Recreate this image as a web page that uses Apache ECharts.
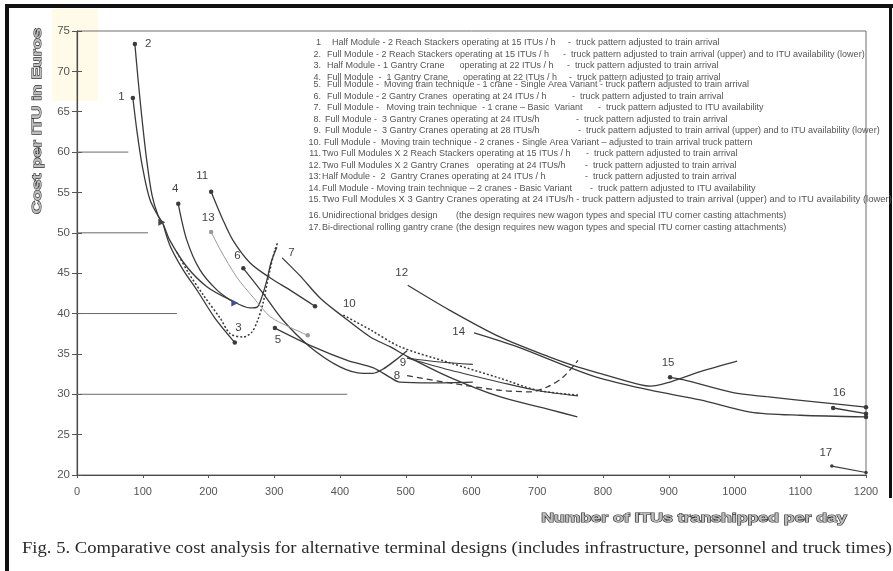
<!DOCTYPE html>
<html>
<head>
<meta charset="utf-8">
<title>Comparative cost analysis for alternative terminal designs</title>
<script src="https://cdn.jsdelivr.net/npm/echarts/dist/echarts.min.js"></script>
<style>
  html, body { margin: 0; padding: 0; background: #ffffff; }
  #chart { width: 893px; height: 571px; }
</style>
</head>
<body>
<div id="chart"></div>
<script>
// Cost per ITU (Euros) against ITUs transhipped per day, one polyline per terminal design
const design1 = [[85, 66.7], [91, 62.7], [99, 58.4], [111, 54.1], [129, 51.3]];
const design2Upper = [[88, 73.4], [93, 68.9], [99, 64.0], [106, 59.0], [114, 54.7], [123, 52.2], [131, 51.1], [141, 49.1], [167, 45.8], [198, 43.3], [233, 41.7], [263, 40.7], [274, 40.8], [281, 42.0], [289, 44.2], [295, 46.3], [304, 48.2]];
const design2Lower = [[131, 51.1], [141, 48.5], [160, 45.6], [184, 42.7], [210, 39.4], [240, 36.4]];
const design3 = [[152, 47.6], [169, 45.1], [192, 42.3], [218, 39.4], [233, 37.5], [253, 37.1], [266, 37.7], [275, 39.2], [283, 41.3], [291, 44.5], [301, 47.9], [306, 48.9]];
const design4 = [[154, 53.6], [167, 49.1], [187, 45.4], [213, 42.9], [240, 41.3]];
const design5 = [[301, 38.2], [359, 35.9], [411, 34.2], [450, 33.3], [476, 32.1], [491, 31.5], [541, 31.4], [602, 31.5]];
const design6 = [[253, 45.6], [283, 42.5], [313, 39.2], [354, 35.9], [400, 33.4], [435, 32.6], [450, 32.6], [465, 33.1], [484, 34.2], [502, 35.4]];
const design7 = [[312, 46.9], [339, 44.7], [370, 41.9], [405, 39.6], [446, 37.1], [476, 35.9], [502, 34.7], [567, 32.1], [643, 29.7], [719, 28.1], [761, 27.2]];
const design8 = [[502, 32.3], [567, 31.4], [643, 30.5], [689, 30.3], [715, 30.9], [739, 32.1], [762, 34.2]];
const design9Upper = [[502, 34.5], [552, 34.0], [602, 33.7]];
const design9Lower = [[502, 34.5], [567, 33.0], [643, 31.5], [704, 30.4], [762, 29.8]];
const design10 = [[405, 39.8], [446, 38.0], [491, 35.9], [567, 33.9], [643, 32.0], [700, 30.5], [762, 29.9]];
const design11 = [[204, 55.1], [222, 51.6], [237, 49.1], [263, 46.3], [294, 44.4], [324, 42.9], [362, 40.9]];
const design12 = [[503, 43.5], [567, 40.4], [643, 37.1], [719, 34.6], [761, 33.4], [795, 32.6], [846, 31.4], [872, 31.0], [897, 31.4], [948, 32.8], [1004, 34.1]];
const design13 = [[204, 50.1], [218, 47.9], [243, 44.5], [268, 42.0], [294, 39.6], [324, 38.3], [351, 37.3]];
const design14 = [[604, 37.6], [669, 35.9], [750, 33.3], [795, 32.0], [872, 30.5], [948, 29.3], [1024, 27.8], [1100, 27.4], [1200, 27.2]];
const design15 = [[902, 32.1], [922, 31.8], [998, 30.2], [1049, 29.7], [1130, 29.0], [1200, 28.4]];
const design16 = [[1150, 28.3], [1200, 27.6]];
const design17 = [[1148, 21.1], [1200, 20.3]];

// Short reference rules drawn from the cost axis: [level, end of rule in ITUs/day]
const guideStubs = [[60, 78], [50, 108], [40, 152], [30, 411]];

// Key to the curves
const keyNumbers = ['1', '2.', '3.', '4.', '5.', '6.', '7.', '8.', '9.', '10.', '11.', '12.', '13:', '14.', '15.', '16.', '17.'];
const keyDesigns = [
  'Half Module - 2 Reach Stackers operating at 15 ITUs / h',
  'Full Module - 2 Reach Stackers operating at 15 ITUs / h',
  'Half Module - 1 Gantry Crane      operating at 22 ITUs / h',
  'Full Module  -  1 Gantry Crane      operating at 22 ITUs / h',
  'Full Module -  Moving train technique - 1 crane - Single Area Variant - truck pattern adjusted to train arrival',
  'Full Module - 2 Gantry Cranes  operating at 24 ITUs / h',
  'Full Module -   Moving train technique  - 1 crane \u2013 Basic  Variant',
  'Full Module -  3 Gantry Cranes operating at 24 ITUs/h',
  'Full Module -  3 Gantry Cranes operating at 28 ITUs/h',
  'Full Module -  Moving train technique - 2 cranes - Single Area Variant \u2013 adjusted to train arrival truck pattern',
  'Two Full Modules X 2 Reach Stackers operating at 15 ITUs / h',
  'Two Full Modules X 2 Gantry Cranes   operating at 24 ITUs/h',
  'Half Module -  2  Gantry Cranes operating at 24 ITUs / h',
  'Full Module - Moving train technique \u2013 2 cranes - Basic Variant',
  'Two Full Modules X 3 Gantry Cranes operating at 24 ITUs/h - truck pattern adjusted to train arrival (upper) and to ITU availability (lower)',
  'Unidirectional bridges design',
  'Bi-directional rolling gantry crane'
];
const keyTruckPattern = [
  '-  truck pattern adjusted to train arrival',
  '-  truck pattern adjusted to train arrival (upper) and to ITU availability (lower)',
  '-  truck pattern adjusted to train arrival',
  '-  truck pattern adjusted to train arrival',
  '',
  '-  truck pattern adjusted to train arrival',
  '-  truck pattern adjusted to ITU availability',
  '-  truck pattern adjusted to train arrival',
  '-  truck pattern adjusted to train arrival (upper) and to ITU availability (lower)',
  '',
  '-  truck pattern adjusted to train arrival',
  '-  truck pattern adjusted to train arrival',
  '-  truck pattern adjusted to train arrival',
  '-  truck pattern adjusted to ITU availability',
  '',
  '(the design requires new wagon types and special ITU corner casting attachments)',
  '(the design requires new wagon types and special ITU corner casting attachments)'
];

// Layout of the key block (pixels)
const keyRowY = [43, 54.5, 66, 77.5, 85, 96.5, 108, 119.5, 131, 142.5, 154, 165.5, 177, 188.5, 200, 216, 228];
const keyDesignX = [332, 327, 327, 327, 327, 327, 327, 325, 325, 324, 322, 322, 322, 322, 322, 322, 322];
const keyTailX = [568, 563, 567, 569, 0, 572, 598, 576, 578, 0, 586, 585, 585, 590, 0, 456, 456];
const keyStretch = [1, 1, 1, 1, 1, 1, 1, 1, 1, 1, 1, 1, 1, 1, 1.055, 1, 1];

const INK = '#3b3b3b';

function curve(name, pts, o) {
  o = o || {};
  const data = pts.map(function (p, i) {
    const item = { value: p, symbolSize: 0.01 };
    const last = i === pts.length - 1;
    if (i === 0 && o.startDot) item.symbolSize = o.dotSize || 4.5;
    if (last && o.endDot) item.symbolSize = o.dotSize || 4.5;
    if (last && o.endTriangle) {
      item.symbol = 'triangle';
      item.symbolSize = 7;
      item.symbolRotate = -90;
      item.itemStyle = { color: o.endTriangle };
    }
    if (o.label && i === (o.labelAt || 0)) {
      item.label = {
        show: true,
        formatter: o.label,
        position: o.labelPos || 'top',
        offset: o.labelOffset || [0, 0],
        color: '#444',
        fontSize: 11.5,
        fontFamily: 'Liberation Sans, Arial, sans-serif'
      };
    }
    return item;
  });
  return {
    name: name,
    type: 'line',
    data: data,
    smooth: o.smooth === undefined ? 0.3 : o.smooth,
    symbol: 'circle',
    showSymbol: true,
    showAllSymbol: true,
    animation: false,
    silent: true,
    z: o.z || 3,
    itemStyle: { color: o.color || INK },
    lineStyle: {
      color: o.color || INK,
      width: o.width || 1.3,
      type: o.type || 'solid'
    },
    label: { show: false }
  };
}

const series = [
  curve('1', design1, { startDot: true, endTriangle: '#444', label: '1', labelPos: 'left', labelOffset: [-1, -1] }),
  curve('2 upper', design2Upper, { startDot: true, label: '2', labelPos: 'right', labelOffset: [3, 0] }),
  curve('2 lower', design2Lower, { endDot: true }),
  curve('3', design3, { type: [2, 2], width: 1.5, label: '3', labelAt: 5, labelPos: 'top', labelOffset: [-5, 2] }),
  curve('4', design4, { startDot: true, endTriangle: '#3f4f8f', label: '4', labelPos: 'top', labelOffset: [-3, -2] }),
  curve('5', design5, { startDot: true, label: '5', labelPos: 'bottom', labelOffset: [3, -1] }),
  curve('6', design6, { startDot: true, label: '6', labelPos: 'top', labelOffset: [-6, 1] }),
  curve('7', design7, { label: '7', labelPos: 'right', labelOffset: [1, -5] }),
  curve('8', design8, { type: [6, 4], label: '8', labelPos: 'left', labelOffset: [-2, 0] }),
  curve('9 upper', design9Upper, { width: 1.1, label: '9', labelPos: 'bottom', labelOffset: [-4, -6] }),
  curve('9 lower', design9Lower, { width: 1.1 }),
  curve('10', design10, { type: [2, 2], width: 1.5, label: '10', labelPos: 'top', labelOffset: [6, 0] }),
  curve('11', design11, { startDot: true, endDot: true, label: '11', labelPos: 'top', labelOffset: [-9, -3] }),
  curve('12', design12, { label: '12', labelPos: 'top', labelOffset: [-6, -1] }),
  curve('13', design13, { startDot: true, endDot: true, color: '#9a9a9a', width: 1, label: '13', labelPos: 'top', labelOffset: [-3, -1] }),
  curve('14', design14, { endDot: true, label: '14', labelPos: 'left', labelOffset: [-4, -1] }),
  curve('15', design15, { startDot: true, endDot: true, label: '15', labelPos: 'top', labelOffset: [-2, -1] }),
  curve('16', design16, { startDot: true, endDot: true, label: '16', labelPos: 'top', labelOffset: [6, -2] }),
  curve('17', design17, { startDot: true, endDot: true, dotSize: 3.5, width: 1.1, label: '17', labelPos: 'top', labelOffset: [-6, -1] })
];

guideStubs.forEach(function (g) {
  series.push({
    type: 'line',
    data: [[0, g[0]], [g[1], g[0]]],
    symbol: 'none',
    animation: false,
    silent: true,
    z: 1,
    lineStyle: { color: '#6a6a6a', width: 1 }
  });
});

const TITLE_FONT = 'bold 13px "Liberation Sans", Arial, sans-serif';

const graphics = [
  // pale stain at the top-left corner of the sheet
  { type: 'rect', z: -10, shape: { x: 52, y: 9, width: 46, height: 92 }, style: { fill: 'rgba(255,247,205,0.45)' }, silent: true },
  // sheet frame
  { type: 'rect', shape: { x: 5, y: 4, width: 4, height: 567 }, style: { fill: '#111' }, silent: true },
  { type: 'rect', shape: { x: 5, y: 4, width: 888, height: 4 }, style: { fill: '#111' }, silent: true },
  { type: 'rect', shape: { x: 889, y: 4, width: 3, height: 494 }, style: { fill: '#111' }, silent: true },
  // axis titles, drawn in an outlined face
  {
    type: 'text', x: 37, y: 121, rotation: Math.PI / 2, scaleX: 1.4, silent: true,
    style: {
      text: 'Cost per ITU in Euros', align: 'center', verticalAlign: 'middle',
      font: TITLE_FONT, fill: '#bdbdbd', stroke: '#333333', lineWidth: 1.1
    }
  },
  {
    type: 'text', x: 694, y: 518, scaleX: 1.36, silent: true,
    style: {
      text: 'Number of ITUs transhipped per day', align: 'center', verticalAlign: 'middle',
      font: TITLE_FONT, fill: '#bdbdbd', stroke: '#333333', lineWidth: 1.1
    }
  },
  // caption
  {
    type: 'text', x: 22, y: 549, scaleX: 1.095, silent: true,
    style: {
      text: 'Fig. 5. Comparative cost analysis for alternative terminal designs (includes infrastructure, personnel and truck times).',
      align: 'left', verticalAlign: 'middle',
      font: '17px "Liberation Serif", "Times New Roman", serif',
      fill: '#2a2a2a'
    }
  }
];

// Key block as positioned text
keyNumbers.forEach(function (num, i) {
  const y = keyRowY[i];
  const font = '9px "Liberation Sans", Arial, sans-serif';
  graphics.push({ type: 'text', x: 321, y: y, silent: true, style: { text: num, align: 'right', verticalAlign: 'middle', font: font, fill: '#555' } });
  graphics.push({ type: 'text', x: keyDesignX[i], y: y, scaleX: keyStretch[i], silent: true, style: { text: keyDesigns[i], align: 'left', verticalAlign: 'middle', font: font, fill: '#555' } });
  if (keyTruckPattern[i]) {
    graphics.push({ type: 'text', x: keyTailX[i], y: y, silent: true, style: { text: keyTruckPattern[i], align: 'left', verticalAlign: 'middle', font: font, fill: '#555' } });
  }
});

const chart = echarts.init(document.getElementById('chart'), null, { renderer: 'canvas' });
chart.setOption({
  backgroundColor: '#ffffff',
  animation: false,
  grid: {
    left: 77, right: 27, top: 31, bottom: 96,
    show: true, borderColor: '#6e6e6e', borderWidth: 1, backgroundColor: 'transparent'
  },
  xAxis: {
    type: 'value', min: 0, max: 1200, interval: 100,
    axisLine: { show: true, lineStyle: { color: '#4a4a4a', width: 1.2 } },
    axisTick: { show: true, length: 3, lineStyle: { color: '#555' } },
    axisLabel: {
      color: '#555', fontSize: 11, margin: 11, fontFamily: 'Liberation Sans, Arial, sans-serif',
      formatter: function (v) { return String(v); }
    },
    splitLine: { show: false }
  },
  yAxis: [{
    type: 'value', min: 20, max: 75, interval: 5,
    axisLine: { show: true, lineStyle: { color: '#4a4a4a', width: 1.2 } },
    axisTick: { show: true, length: 5, lineStyle: { color: '#555' } },
    axisLabel: { color: '#555', fontSize: 11.5, margin: 7, fontFamily: 'Liberation Sans, Arial, sans-serif' },
    splitLine: { show: false }
  }, {
    type: 'value', min: 20, max: 75, interval: 5, position: 'left',
    axisLine: { show: false },
    axisTick: { show: true, inside: true, length: 5, lineStyle: { color: '#555' } },
    axisLabel: { show: false },
    splitLine: { show: false }
  }],
  series: series,
  graphic: graphics
});
</script>
</body>
</html>
